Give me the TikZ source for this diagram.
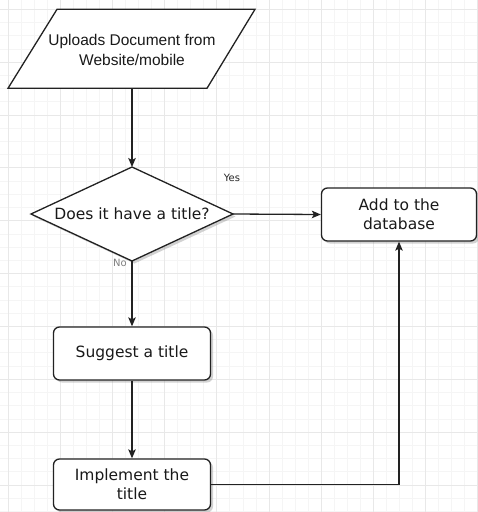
\documentclass[tikz,border=0pt]{standalone}
\usepackage{fontspec}
\setmainfont{DejaVu Sans}
\newfontfamily\arialfont{Liberation Sans}
\usetikzlibrary{shadows,arrows.meta}
\definecolor{gridminor}{HTML}{F5F5F5}
\definecolor{gridmajor}{HTML}{E8E8E8}
\definecolor{linecol}{HTML}{222222}
\tikzset{
  gminor/.style={draw=gridminor, line width=0.8pt},
  gmajor/.style={draw=gridmajor, line width=1pt},
  shapeline/.style={draw=linecol, line width=1.3pt},
  box/.style={shapeline, fill=white, rounded corners=6pt, minimum width=157pt, inner sep=0pt,
    align=center, text=black!90, font=\fontsize{15.5}{19}\selectfont,
    drop shadow={shadow xshift=2.5pt, shadow yshift=-2.5pt, opacity=0.35, fill=gray}},
  arrow/.style={draw=linecol, line width=1.3pt, -{Stealth[length=9pt,width=7.5pt,inset=2pt]}},
  lbl/.style={inner sep=0pt, font=\fontsize{10}{12}\selectfont, text=black!85},
  dtext/.style={inner sep=0pt, align=center, text=black!90, font=\fontsize{15.5}{19}\selectfont}
}
\begin{document}
\begin{tikzpicture}[x=1pt,y=-1pt]
\useasboundingbox (0,0) rectangle (478,512);
\fill[white] (0,0) rectangle (478,512);
\begin{scope}
\clip (0,0) rectangle (478,512);
\foreach \k in {-4,...,40} {
  \draw[gminor] ({8+\k*13.05},0) -- ({8+\k*13.05},512);
  \draw[gminor] (0,{9.3+\k*13.215}) -- (478,{9.3+\k*13.215});
}
\foreach \k in {0,...,10} {
  \draw[gmajor] ({8+\k*52.2},0) -- ({8+\k*52.2},512);
  \draw[gmajor] (0,{9.3+\k*52.86}) -- (478,{9.3+\k*52.86});
}
\end{scope}

% parallelogram
\coordinate (ptl) at (57,9.3);
\coordinate (ptr) at (255,9.3);
\coordinate (pbr) at (207,88.3);
\coordinate (pbl) at (8,88.3);
\coordinate (pbot) at (132,88.3);
\draw[shapeline, fill=white, line join=miter] (ptl) -- (ptr) -- (pbr) -- (pbl) -- cycle;
\node[dtext, font=\arialfont\fontsize{15.5}{19.5}\selectfont] (upl) at (132,50) {Uploads Document from\\Website/mobile};

% diamond
\coordinate (dtop) at (132,167);
\coordinate (dright) at (233,214);
\coordinate (dbot) at (132,261);
\coordinate (dleft) at (31,214);
\fill[gray, opacity=0.35] ([shift={(2.5,2.5)}]dtop) -- ([shift={(2.5,2.5)}]dright) -- ([shift={(2.5,2.5)}]dbot) -- ([shift={(2.5,2.5)}]dleft) -- cycle;
\draw[shapeline, fill=white] (dtop) -- (dright) -- (dbot) -- (dleft) -- cycle;
\node[dtext] (ques) at (132,214) {Does it have a title?};

% boxes
\node[box, minimum width=155pt, minimum height=53pt] (add) at (399,214.5) {Add to the\\database};
\node[box, minimum height=53pt] (sug) at (132,353.5) {Suggest a title};
\node[box, minimum height=51pt] (imp) at (132,484.5) {Implement the\\title};

% connectors
\draw[arrow] (pbot) -- (dtop);
\draw[arrow] (dright) -- (add.west);
\draw[arrow] (dbot) -- (sug.north);
\draw[arrow] (sug.south) -- (imp.north);
\draw[arrow] (imp.east) -| (add.south);

% labels
\node[lbl] (yes) at (232,177.5) {Yes};
\node[lbl, text=gray] (no) at (120,262.5) {No};
\end{tikzpicture}
\end{document}
